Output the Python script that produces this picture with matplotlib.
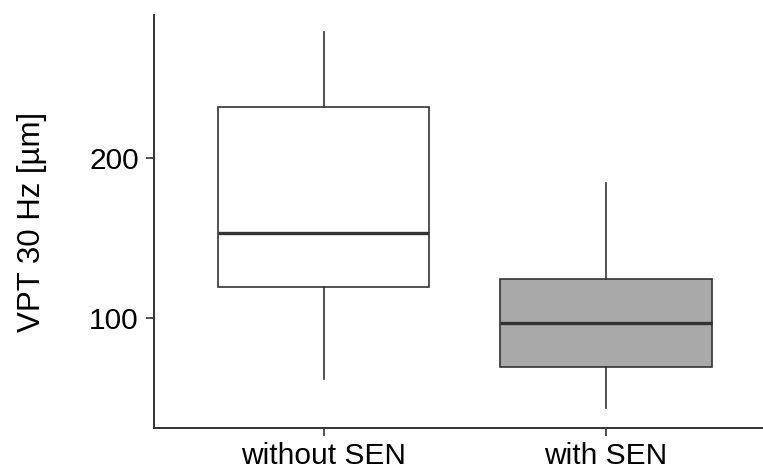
import matplotlib.pyplot as plt

plt.rcParams.update({
    "figure.dpi": 100,
    "font.family": ["Liberation Sans", "DejaVu Sans"],
})

# Data
categories = ["without SEN", "with SEN"]
whisker_low = [62.2, 44.1]
q1 = [119.5, 69.7]
median = [153.1, 97.3]
q3 = [231.6, 124.5]
whisker_high = [278.3, 184.1]
fill_colors = ["white", "#a9a9a9"]
y_ticks = [100, 200]

stats = []
for i, name in enumerate(categories):
    stats.append({
        "label": name,
        "whislo": whisker_low[i],
        "q1": q1[i],
        "med": median[i],
        "q3": q3[i],
        "whishi": whisker_high[i],
        "fliers": [],
    })

fig = plt.figure(figsize=(7.63, 4.69))
ax = fig.add_axes([154 / 763, 1 - 428.3 / 469, (775.5 - 154) / 763, (428.3 - 15) / 469])

edge = "#333333"
bp = ax.bxp(stats, positions=[1, 2], widths=0.75, patch_artist=True, showcaps=False,
            boxprops={"edgecolor": edge, "linewidth": 1.2},
            whiskerprops={"color": edge, "linewidth": 1.2},
            medianprops={"color": edge, "linewidth": 2.4})
for patch, c in zip(bp["boxes"], fill_colors):
    patch.set_facecolor(c)

ax.set_xlim(0.4, 2.6)
ax.set_ylim(31.5, 288.9)
ax.set_yticks(y_ticks)
ax.set_xticks([1, 2])
ax.set_xticklabels(categories)
ax.set_ylabel("VPT 30 Hz [µm]", fontsize=22.5, labelpad=30)

for s in ["top", "right"]:
    ax.spines[s].set_visible(False)
for s in ["left", "bottom"]:
    ax.spines[s].set_color(edge)
    ax.spines[s].set_linewidth(1.4)
ax.tick_params(axis="both", labelsize=21.5, colors=edge, labelcolor="black",
               length=6, width=1.2, pad=4)
ax.tick_params(axis="y", pad=5)

fig.savefig("out.png", dpi=100)
